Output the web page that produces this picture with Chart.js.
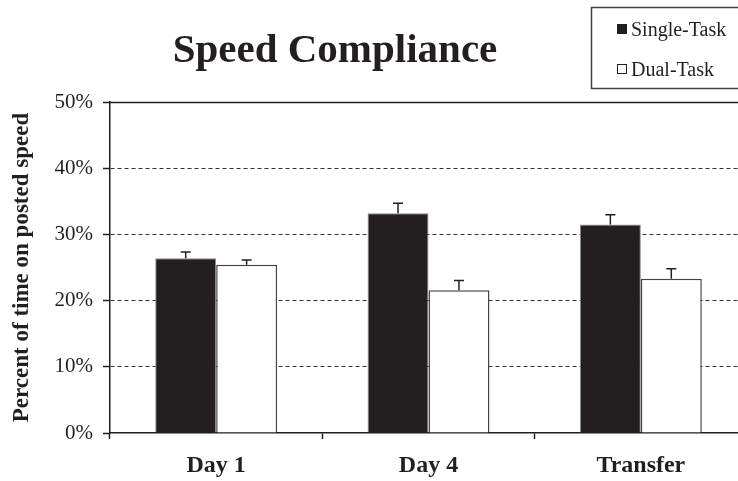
<!DOCTYPE html>
<html>
<head>
<meta charset="utf-8">
<script src="https://cdn.jsdelivr.net/npm/chart.js@4"></script>
<style>
  html, body { margin: 0; padding: 0; background: #fff; overflow: hidden; }
  #wrap { width: 738px; height: 481px; overflow: hidden; }
</style>
</head>
<body>
<div id="wrap"><canvas id="speed_chart" width="750" height="481"></canvas></div>
<script>
var categories = ["Day 1", "Day 4", "Transfer"];
var seriesNames = ["Single-Task", "Dual-Task"];
var singleTask = [26.4, 33.2, 31.5];
var singleErr = [0.95, 1.5, 1.45];
var dualTask = [25.4, 21.55, 23.3];
var dualErr = [0.75, 1.5, 1.5];
var yTicks = [0, 10, 20, 30, 40, 50];

var SERIF = "'Liberation Serif', 'Times New Roman', serif";
var INK = '#231f20';

// error bars drawn from the y scale
var errorBars = {
    id: 'errorBars',
    afterDatasetsDraw: function(chart) {
        var ctx = chart.ctx;
        var y = chart.scales.y;
        ctx.save();
        ctx.strokeStyle = INK;
        ctx.lineWidth = 1.5;
        chart.data.datasets.forEach(function(ds, di) {
            var meta = chart.getDatasetMeta(di);
            meta.data.forEach(function(bar, i) {
                var top = y.getPixelForValue(ds.data[i] + ds.errors[i]);
                ctx.beginPath();
                ctx.moveTo(bar.x, bar.y);
                ctx.lineTo(bar.x, top);
                ctx.moveTo(bar.x - 5, top);
                ctx.lineTo(bar.x + 5, top);
                ctx.stroke();
            });
        });
        ctx.restore();
    }
};

// solid top line at 50%, title and boxed legend
var decor = {
    id: 'decor',
    afterDraw: function(chart) {
        var ctx = chart.ctx;
        var y = chart.scales.y;
        var area = chart.chartArea;
        ctx.save();
        var yTop = Math.round(y.getPixelForValue(50)) + 0.5;
        ctx.strokeStyle = INK;
        ctx.lineWidth = 1.5;
        ctx.beginPath();
        ctx.moveTo(area.left, yTop);
        ctx.lineTo(area.right, yTop);
        ctx.stroke();

        ctx.fillStyle = INK;
        ctx.font = 'bold 41px ' + SERIF;
        ctx.textAlign = 'center';
        ctx.textBaseline = 'alphabetic';
        ctx.fillText('Speed Compliance', 335, 62);

        // legend
        ctx.strokeStyle = '#444';
        ctx.lineWidth = 1.5;
        ctx.strokeRect(591.5, 7.5, 160, 81);
        ctx.font = '20px ' + SERIF;
        ctx.textAlign = 'left';
        chart.data.datasets.forEach(function(ds, i) {
            var cy = 29 + i * 40;
            ctx.fillStyle = ds.backgroundColor;
            ctx.fillRect(617, cy - 5, 10, 10);
            ctx.strokeStyle = INK;
            ctx.lineWidth = 1;
            ctx.strokeRect(617.5, cy - 4.5, 9, 9);
            ctx.fillStyle = INK;
            ctx.fillText(ds.label, 631, cy + 7);
        });
        ctx.restore();
    }
};

var ctxEl = document.getElementById('speed_chart');

new Chart(ctxEl, {
    type: 'bar',
    data: {
        labels: categories,
        datasets: [
            {
                label: seriesNames[0],
                data: singleTask,
                errors: singleErr,
                backgroundColor: '#231f20',
                borderColor: '#8a8a8a',
                borderWidth: 1,
                categoryPercentage: 0.574,
                barPercentage: 1
            },
            {
                label: seriesNames[1],
                data: dualTask,
                errors: dualErr,
                backgroundColor: '#ffffff',
                borderColor: '#444444',
                borderWidth: 1.5,
                categoryPercentage: 0.574,
                barPercentage: 1
            }
        ]
    },
    options: {
        responsive: false,
        animation: false,
        layout: { padding: { top: 102, right: 3, left: 0, bottom: 0 } },
        plugins: {
            legend: { display: false },
            title: { display: false },
            tooltip: { enabled: false }
        },
        scales: {
            x: {
                grid: {
                    offset: true,
                    drawOnChartArea: false,
                    tickLength: 6,
                    tickColor: INK,
                    tickWidth: 1.5
                },
                border: { color: INK, width: 1.5 },
                ticks: {
                    color: INK,
                    padding: 12,
                    font: { family: SERIF, size: 24, weight: 'bold' }
                },
                afterFit: function(scale) { scale.height = 48; }
            },
            y: {
                min: 0,
                max: 50,
                afterBuildTicks: function(scale) {
                    scale.ticks = yTicks.map(function(v) { return { value: v }; });
                },
                grid: {
                    color: function(c) {
                        var v = c.tick ? c.tick.value : null;
                        return (v === 0 || v === 50) ? 'rgba(0,0,0,0)' : '#333';
                    },
                    lineWidth: 1,
                    tickLength: 7,
                    tickColor: INK,
                    tickWidth: 1.5
                },
                border: { color: INK, width: 1.5, dash: [4, 3] },
                ticks: {
                    color: INK,
                    padding: 10,
                    font: { family: SERIF, size: 21 },
                    callback: function(v) { return v + '%'; }
                },
                title: {
                    display: true,
                    text: 'Percent of time on posted speed',
                    color: INK,
                    padding: { top: 8, bottom: 0 },
                    font: { family: SERIF, size: 23, weight: 'bold' }
                },
                afterFit: function(scale) { scale.width = 110; }
            }
        }
    },
    plugins: [errorBars, decor]
});
</script>
</body>
</html>
